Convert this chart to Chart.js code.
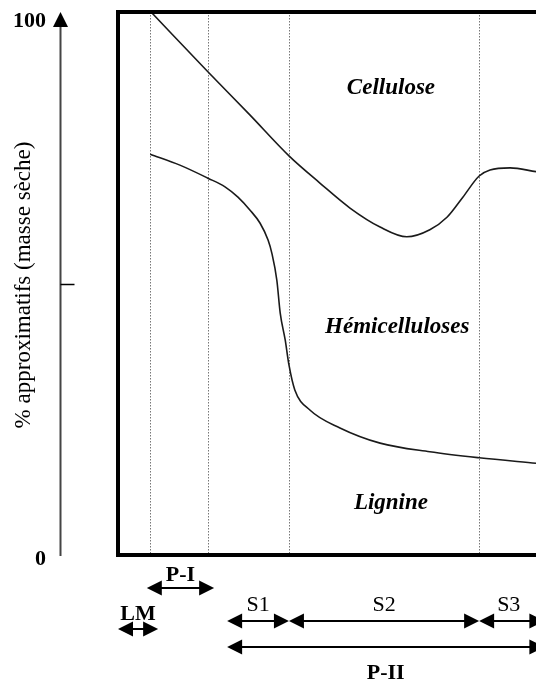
<!DOCTYPE html>
<html>
<head>
<meta charset="utf-8">
<script src="https://cdn.jsdelivr.net/npm/chart.js@4/dist/chart.umd.min.js"></script>
<style>
html,body{margin:0;padding:0;background:#fff;overflow:hidden;}
canvas{display:block;}
</style>
</head>
<body>
<canvas id="c" width="536" height="690" style="width:536px;height:690px"></canvas>
<script>
// Boundary Cellulose / Hémicelluloses (x: position across wall, y: cumulative %)
const upperX = [7.9, 21.5, 31.6, 40.9, 48.3, 55.5, 62.7, 69.1, 74.6, 78.7, 82.5, 86.4, 89.0, 93.8, 100];
const upperY = [100, 89.0, 81.0, 73.5, 68.5, 63.9, 60.4, 58.6, 59.9, 62.2, 65.9, 69.8, 70.9, 71.3, 70.6];
// Boundary Hémicelluloses / Lignine
const lowerX = [7.7, 14.8, 21.5, 25.6, 28.7, 31.6, 34.0, 35.9, 36.8, 38.0, 38.8, 40.0, 40.9, 42.3, 45.9, 53.1, 62.7, 74.6, 86.4, 100];
const lowerY = [73.8, 71.8, 69.4, 67.8, 65.9, 63.5, 61.1, 58.0, 55.6, 50.6, 44.6, 39.6, 35.0, 30.4, 26.7, 23.4, 20.6, 19.0, 17.9, 16.9];
// Layer boundaries (dotted lines)
const layerBounds = [7.7, 21.5, 40.9, 86.4];
// Y axis ticks
const yTickLabels = ['0', '100'];
const yTickValues = [0, 100];
const yMidTick = 50;
// Region labels [text, x, y]
const regionNames = ['Cellulose', 'Hémicelluloses', 'Lignine'];
const regionX = [65.3, 66.8, 65.3];
const regionY = [86, 42, 9.5];
// Layer spans under the axis
const spanNames = ['LM', 'P-I', 'S1', 'S2', 'S3', 'P-II'];
const spanStart = [0, 6.9, 26.1, 40.9, 86.4, 26.1];
const spanEnd = [9.6, 23.0, 40.9, 86.4, 102, 102];
const spanRow = [3, 1, 2, 2, 2, 4];

const rowArrowY = {1: 588, 2: 621, 3: 629, 4: 647};
const rowLabelY = {1: 575, 2: 605, 3: 614, 4: 673};
const boldSpans = {'LM': true, 'P-I': true, 'P-II': true};

function pts(xs, ys){ return xs.map((x,i)=>({x:x, y:ys[i]})); }

function arrowHead(ctx, tipX, y, dir){
  const L = 15, H = 7.5;
  ctx.beginPath();
  ctx.moveTo(tipX, y);
  ctx.lineTo(tipX - dir*L, y - H);
  ctx.lineTo(tipX - dir*L, y + H);
  ctx.closePath();
  ctx.fill();
}

const decor = {
  id: 'decor',
  beforeDatasetsDraw(chart){
    const ctx = chart.ctx, a = chart.chartArea, xs = chart.scales.x;
    ctx.save();
    ctx.strokeStyle = '#777';
    ctx.lineWidth = 1;
    ctx.setLineDash([1.5, 1.5]);
    layerBounds.forEach(v=>{
      const px = Math.round(xs.getPixelForValue(v)) + 0.5;
      ctx.beginPath(); ctx.moveTo(px, a.top); ctx.lineTo(px, a.bottom); ctx.stroke();
    });
    ctx.restore();
  },
  afterDraw(chart){
    const ctx = chart.ctx, a = chart.chartArea, xs = chart.scales.x, ys = chart.scales.y;
    ctx.save();
    // box
    ctx.strokeStyle = '#000';
    ctx.lineWidth = 4;
    ctx.strokeRect(a.left, a.top, 600, a.bottom - a.top);
    // y axis with arrow
    const ax = 60.5;
    ctx.strokeStyle = '#444';
    ctx.fillStyle = '#000';
    ctx.lineWidth = 2;
    ctx.beginPath(); ctx.moveTo(ax, ys.getPixelForValue(100) + 14); ctx.lineTo(ax, ys.getPixelForValue(0) + 1); ctx.stroke();
    ctx.beginPath();
    ctx.moveTo(ax, ys.getPixelForValue(100));
    ctx.lineTo(ax - 7.5, ys.getPixelForValue(100) + 15);
    ctx.lineTo(ax + 7.5, ys.getPixelForValue(100) + 15);
    ctx.closePath(); ctx.fill();
    // mid tick
    ctx.strokeStyle = '#000';
    ctx.lineWidth = 1.5;
    const my = Math.round(ys.getPixelForValue(yMidTick)) + 0.5;
    ctx.beginPath(); ctx.moveTo(ax, my); ctx.lineTo(ax + 14, my); ctx.stroke();
    // tick labels
    ctx.fillStyle = '#000';
    ctx.font = 'bold 22px "Liberation Serif", serif';
    ctx.textAlign = 'right';
    ctx.textBaseline = 'middle';
    ctx.fillText(yTickLabels[1], 46, ys.getPixelForValue(yTickValues[1]) + 9);
    ctx.fillText(yTickLabels[0], 46, ys.getPixelForValue(yTickValues[0]) + 4);
    // axis title
    ctx.save();
    ctx.translate(24, 285);
    ctx.rotate(-Math.PI/2);
    ctx.textAlign = 'center';
    ctx.font = '23px "Liberation Serif", serif';
    ctx.fillText('% approximatifs (masse sèche)', 0, 0);
    ctx.restore();
    // region labels
    ctx.textAlign = 'center';
    ctx.font = 'italic bold 23px "Liberation Serif", serif';
    regionNames.forEach((n,i)=>{
      ctx.fillText(n, xs.getPixelForValue(regionX[i]), ys.getPixelForValue(regionY[i]));
    });
    // spans
    ctx.strokeStyle = '#000';
    ctx.lineWidth = 2;
    spanNames.forEach((n,i)=>{
      const x1 = xs.getPixelForValue(spanStart[i]);
      const x2 = xs.getPixelForValue(spanEnd[i]);
      const y = rowArrowY[spanRow[i]];
      ctx.beginPath(); ctx.moveTo(x1 + 10, y); ctx.lineTo(x2 - 10, y); ctx.stroke();
      arrowHead(ctx, x1, y, -1);
      arrowHead(ctx, x2, y, 1);
      ctx.font = (boldSpans[n] ? 'bold ' : '') + '22px "Liberation Serif", serif';
      ctx.fillText(n, (x1 + Math.min(x2, 545)) / 2 + (n==='S3' ? -3 : 0), rowLabelY[spanRow[i]]);
    });
    ctx.restore();
  }
};

new Chart(document.getElementById('c'), {
  type: 'line',
  data: {
    datasets: [
      {data: pts(upperX, upperY), borderColor: '#1a1a1a', borderWidth: 1.6, pointRadius: 0, fill: false, cubicInterpolationMode: 'monotone'},
      {data: pts(lowerX, lowerY), borderColor: '#1a1a1a', borderWidth: 1.6, pointRadius: 0, fill: false, cubicInterpolationMode: 'monotone'}
    ]
  },
  options: {
    responsive: false,
    animation: false,
    devicePixelRatio: 1,
    layout: {padding: {left: 118, top: 12, right: 0, bottom: 135}},
    scales: {
      x: {type: 'linear', min: 0, max: 100, display: false},
      y: {type: 'linear', min: 0, max: 100, display: false}
    },
    plugins: {legend: {display: false}, tooltip: {enabled: false}}
  },
  plugins: [decor]
});
</script>
</body>
</html>
